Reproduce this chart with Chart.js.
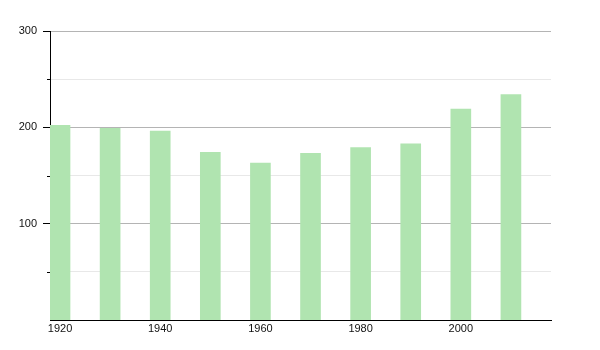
<!DOCTYPE html>
<html>
<head>
<meta charset="utf-8">
<script src="https://cdn.jsdelivr.net/npm/chart.js@4"></script>
<style>
  html, body { margin: 0; padding: 0; background: #fff; }
  #wrap { width: 600px; height: 350px; }
</style>
</head>
<body>
<div id="wrap"><canvas id="myChart" width="600" height="350"></canvas></div>
<script>
var years = [1920, 1930, 1940, 1950, 1960, 1970, 1980, 1990, 2000, 2010];
var values = [202, 199, 196, 174, 163, 173, 179, 183, 219, 234];
var xTicks = [1920, 1940, 1960, 1980, 2000];
var yTicks = [50, 100, 150, 200, 250, 300];

var points = years.map(function (y, i) { return { x: y, y: values[i] }; });

// short tick marks for the minor (unlabelled) y steps
var minorTicks = {
    id: 'minorTicks',
    afterDraw: function (chart) {
        var c = chart.ctx, s = chart.scales.y;
        c.save();
        c.strokeStyle = '#000';
        c.lineWidth = 1;
        yTicks.forEach(function (v) {
            if (v % 100 === 0) return;
            var py = Math.round(s.getPixelForValue(v)) + 0.5;
            c.beginPath();
            c.moveTo(s.right - 3, py);
            c.lineTo(s.right, py);
            c.stroke();
        });
        c.restore();
    }
};

var ctx = document.getElementById('myChart').getContext('2d');
var myChart = new Chart(ctx, {
    type: 'bar',
    data: {
        datasets: [{
            data: points,
            backgroundColor: 'rgba(176, 228, 176, 1)',
            borderWidth: 0,
            barThickness: 20
        }]
    },
    options: {
        responsive: false,
        animation: false,
        layout: { padding: { top: 31, right: 49, left: 0, bottom: 0 } },
        plugins: {
            legend: { display: false },
            tooltip: { enabled: false }
        },
        scales: {
            x: {
                type: 'linear',
                min: 1918,
                max: 2018,
                offset: false,
                afterBuildTicks: function (s) {
                    s.ticks = xTicks.map(function (v) { return { value: v }; });
                },
                afterFit: function (s) { s.height = 30; },
                grid: { display: false, drawTicks: false, offset: false },
                border: { display: true, color: '#000', width: 1 },
                ticks: {
                    color: '#111',
                    padding: 2,
                    maxRotation: 0,
                    font: { family: 'Liberation Sans', size: 11 },
                    callback: function (v) { return String(v); }
                }
            },
            y: {
                min: 0,
                max: 300,
                afterBuildTicks: function (s) {
                    s.ticks = yTicks.map(function (v) { return { value: v }; });
                },
                afterFit: function (s) { s.width = 50; },
                border: { display: true, color: '#000', width: 1 },
                grid: {
                    color: function (c) {
                        return c.tick && c.tick.value % 100 === 0 ? '#b4b4b4' : '#e8e8e8';
                    },
                    tickColor: function (c) {
                        return c.tick && c.tick.value % 100 === 0 ? '#000' : 'rgba(0,0,0,0)';
                    },
                    tickLength: 7
                },
                ticks: {
                    color: '#111',
                    padding: 6,
                    font: { family: 'Liberation Sans', size: 11 },
                    callback: function (v) { return v % 100 === 0 ? String(v) : ''; }
                }
            }
        }
    },
    plugins: [minorTicks]
});
</script>
</body>
</html>
